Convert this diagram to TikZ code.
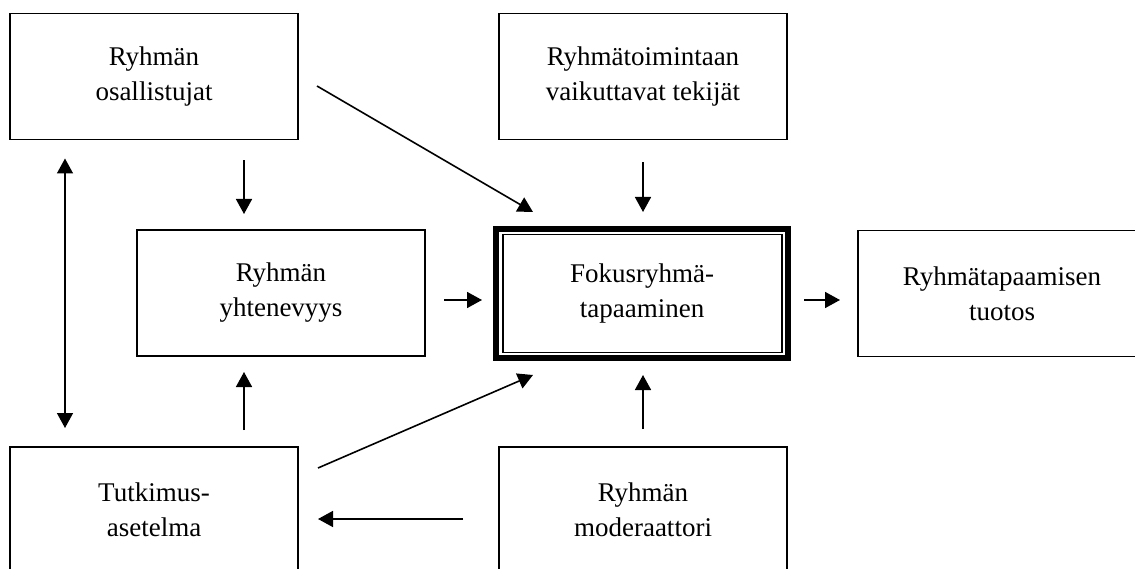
\documentclass[tikz,border=0pt]{standalone}
\usepackage{fontspec}
\setmainfont{Liberation Serif}
\usetikzlibrary{arrows.meta,calc}
\begin{document}
\begin{tikzpicture}[x=1pt,y=-1pt,
  box/.style={draw,line width=1.6pt,rectangle,outer sep=0pt,inner sep=0pt,align=center,
    font=\fontsize{27}{35}\selectfont,minimum width=288pt,minimum height=126pt},
  arr/.style={line width=1.6pt,-{Triangle[length=15pt,width=16pt]}},
  darr/.style={line width=1.6pt,{Triangle[length=15pt,width=16pt]}-{Triangle[length=15pt,width=16pt]}}]
\useasboundingbox (0,0) rectangle (1135,569);
\clip (0,0) rectangle (1135,569);
\fill[white] (0,0) rectangle (1135,569);

\node[box] (A) at (154,76.5) {Ryhmän\\osallistujat};
\node[box] (B) at (643,76.5) {Ryhmätoimintaan\\vaikuttavat tekijät};
\node[box] (C) at (281,293) {Ryhmän\\yhtenevyys};
\node[box,line width=6pt,minimum width=292pt,minimum height=129pt] (Fc) at (642,293.5) {Fokusryhmä-\\tapaaminen};
\draw[line width=1.5pt] ($(Fc.north west)+(7,5.5)$) rectangle ($(Fc.south east)+(-6,-5.5)$);
\node[box] (E) at (1002,293.5) {Ryhmätapaamisen\\tuotos};
\node[box] (F) at (154,510) {Tutkimus-\\asetelma};
\node[box] (G) at (643,510) {Ryhmän\\moderaattori};

% arrows
\draw[arr] ($(A.east)+(19,9.5)$) -- ($(Fc.north west)+(37,-17)$);
\draw[arr] ($(A.south)+(90,21)$) -- ($(C.north)+(-37,-16)$);
\draw[arr] ($(B.south)+(0,23)$) -- ($(Fc.north)+(1,-17)$);
\draw[arr] ($(C.east)+(19,7)$) -- ($(Fc.west)+(-14,6.5)$);
\draw[arr] ($(Fc.east)+(16,6.5)$) -- ($(E.west)+(-18,6.5)$);
\draw[darr] ($(A.south)+(-89,19)$) -- ($(F.north)+(-89,-19)$);
\draw[arr] ($(F.north)+(90,-17)$) -- ($(C.south)+(-37,16)$);
\draw[arr] ($(F.east)+(20,-42)$) -- ($(Fc.south west)+(37,17)$);
\draw[arr] ($(G.north)+(0,-18)$) -- ($(Fc.south)+(1,17)$);
\draw[arr] ($(G.west)+(-36,9)$) -- ($(F.east)+(20,9)$);
\end{tikzpicture}
\end{document}
